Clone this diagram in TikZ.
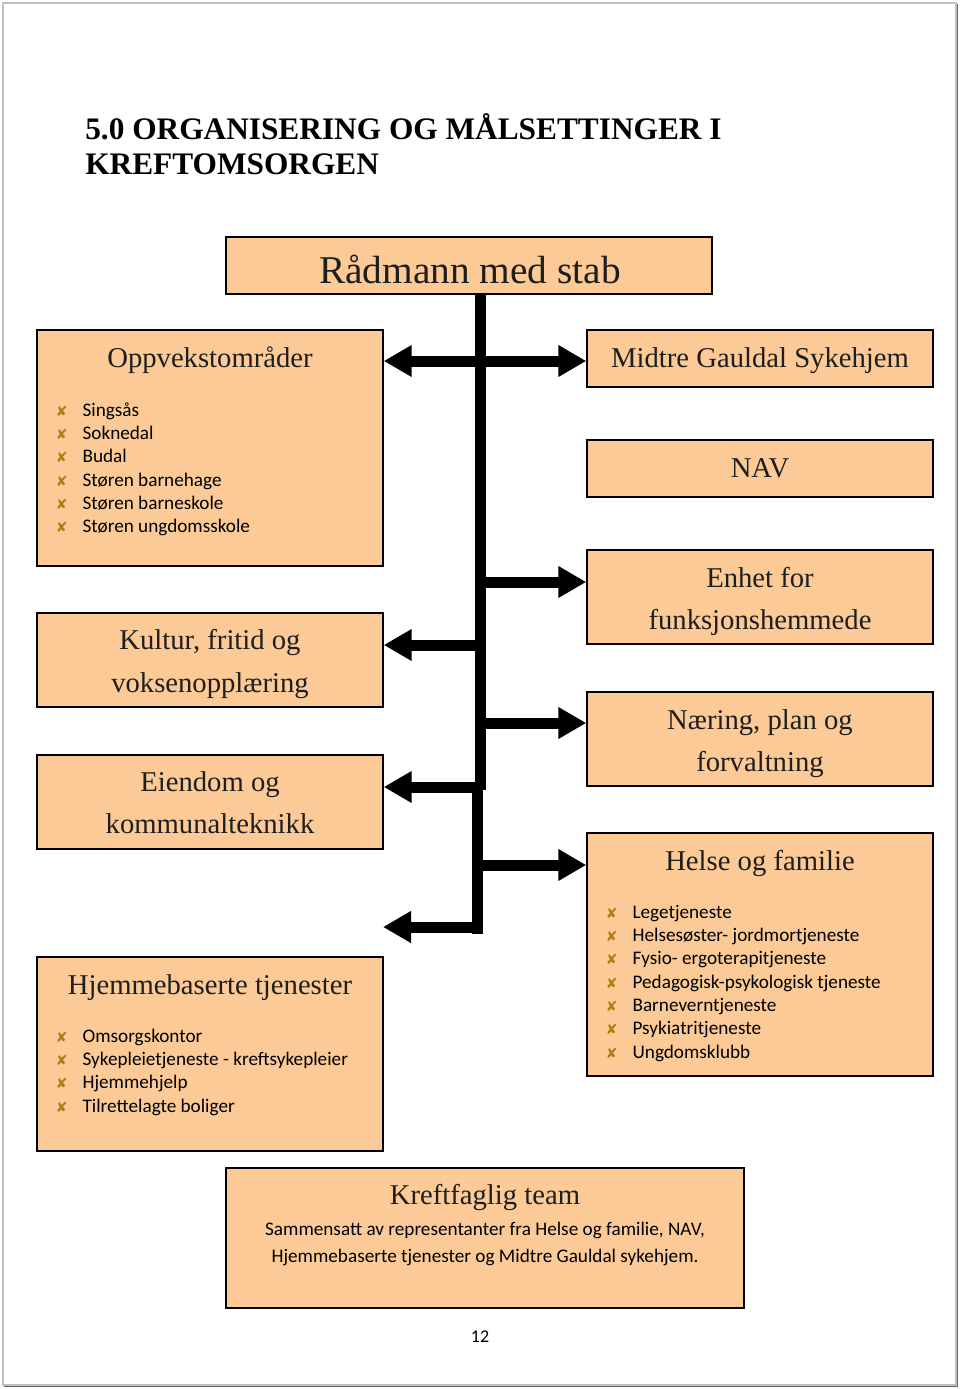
\documentclass[tikz,border=0pt]{standalone}
\usepackage{fontspec}
\setmainfont{Liberation Serif}
\newfontfamily\bodyfont{Carlito}
\newfontfamily\symfont{DejaVu Sans}
\usetikzlibrary{arrows.meta,fit}
\definecolor{boxfill}{RGB}{251,202,150}
\definecolor{bulcol}{RGB}{180,122,20}
\definecolor{headcol}{RGB}{30,30,30}
\newcommand{\bul}{\makebox[20.5pt][l]{\hspace{0.5pt}\textcolor{bulcol}{\symfont\fontsize{10.5pt}{12pt}\selectfont ✘}}}
\begin{document}
\begin{tikzpicture}[x=0.75pt,y=-0.75pt,
  box/.style={draw=black,line width=1.1pt,fill=boxfill,inner sep=0pt},
  head/.style={anchor=base,font=\fontsize{21.5pt}{26pt}\selectfont,text=headcol,inner sep=0pt},
  list/.style={anchor=base west,inner sep=0pt,font=\bodyfont\fontsize{14.4pt}{17.5pt}\selectfont},
  bar/.style={line width=8.25pt},
  tip/.style={-{Triangle[length=21pt,width=22.5pt]}},
  dtip/.style={{Triangle[length=21pt,width=22.5pt]}-{Triangle[length=21pt,width=22.5pt]}},
]
\useasboundingbox (0,0) rectangle (960,1389);
% page frame
\draw[black!25,line width=0.8pt] (3,3) rectangle (956,1385);
\draw[black!60,line width=1.3pt] (957.5,4) -- (957.5,1386.5) -- (4,1386.5);

% title
\node[anchor=base west,inner sep=0pt,font=\bfseries\fontsize{23.5pt}{28pt}\selectfont] (title1) at (85,139) {5.0 ORGANISERING OG MÅLSETTINGER I};
\node[anchor=base west,inner sep=0pt,font=\bfseries\fontsize{23.5pt}{28pt}\selectfont] (title2) at (85,174) {KREFTOMSORGEN};

% boxes
\node[box,fit={(226,237)(712,294)}] (radm) {};
\node[box,fit={(37,330)(383,566)}] (oppv) {};
\node[box,fit={(587,330)(933,387)}] (midtre) {};
\node[box,fit={(587,440)(933,497)}] (nav) {};
\node[box,fit={(587,550)(933,644)}] (enhet) {};
\node[box,fit={(37,613)(383,707)}] (kultur) {};
\node[box,fit={(587,692)(933,786)}] (naering) {};
\node[box,fit={(37,755)(383,849)}] (eiendom) {};
\node[box,fit={(587,833)(933,1076)}] (helse) {};
\node[box,fit={(37,957)(383,1151)}] (hjem) {};
\node[box,fit={(226,1168)(744,1308)}] (kreft) {};

% headings
\node[head,font=\fontsize{29.5pt}{34pt}\selectfont] (radmT) at (470,283) {Rådmann med stab};
\node[head] (oppvT) at (210,367) {Oppvekstområder};
\node[head] (midtreT) at (760,367) {Midtre Gauldal Sykehjem};
\node[head] (navT) at (760,477) {NAV};
\node[head] (enhetT1) at (760,587) {Enhet for};
\node[head] (enhetT2) at (760,629) {funksjonshemmede};
\node[head] (kulturT1) at (210,649) {Kultur, fritid og};
\node[head] (kulturT2) at (210,692) {voksenopplæring};
\node[head] (naeringT1) at (760,729) {Næring, plan og};
\node[head] (naeringT2) at (760,771) {forvaltning};
\node[head] (eiendomT1) at (210,791) {Eiendom og};
\node[head] (eiendomT2) at (210,833) {kommunalteknikk};
\node[head] (helseT) at (760,870) {Helse og familie};
\node[head] (hjemT) at (210,994) {Hjemmebaserte tjenester};
\node[head] (kreftT) at (485,1204) {Kreftfaglig team};

% lists
\node[list] (oppvL) at (55,416) {\begin{tabular}[t]{@{}l@{}}
\bul Singsås\\ \bul Soknedal\\ \bul Budal\\ \bul Støren barnehage\\ \bul Støren barneskole\\ \bul Støren ungdomsskole
\end{tabular}};
\node[list] (helseL) at (605,918) {\begin{tabular}[t]{@{}l@{}}
\bul Legetjeneste\\ \bul Helsesøster- jordmortjeneste\\ \bul Fysio- ergoterapitjeneste\\ \bul Pedagogisk-psykologisk tjeneste\\ \bul Barneverntjeneste\\ \bul Psykiatritjeneste\\ \bul Ungdomsklubb
\end{tabular}};
\node[list] (hjemL) at (55,1042) {\begin{tabular}[t]{@{}l@{}}
\bul Omsorgskontor\\ \bul Sykepleietjeneste - kreftsykepleier\\ \bul Hjemmehjelp\\ \bul Tilrettelagte boliger
\end{tabular}};
\node[anchor=base,inner sep=0pt,font=\bodyfont\fontsize{14.4pt}{17.5pt}\selectfont] (kreftL1) at (485,1235) {Sammensatt av representanter fra Helse og familie, NAV,};
\node[anchor=base,inner sep=0pt,font=\bodyfont\fontsize{14.4pt}{17.5pt}\selectfont] (kreftL2) at (485,1262) {Hjemmebaserte tjenester og Midtre Gauldal sykehjem.};

% page number
\node[anchor=base,inner sep=0pt,font=\bodyfont\fontsize{13.5pt}{15pt}\selectfont] (pageno) at (480,1342) {12};

% trunk
\coordinate (tA) at (480,294);
\coordinate (tB) at (480,790);
\coordinate (tC) at (477.5,783);
\coordinate (tD) at (477.5,934);
\draw[bar] (tA) -- (tB);
\draw[bar] (tC) -- (tD);

% branches
\coordinate (j1) at (480,361);
\coordinate (j2) at (480,582);
\coordinate (j3) at (480,645);
\coordinate (j4) at (480,723);
\coordinate (j5) at (480,787);
\coordinate (j6) at (477.5,865);
\coordinate (j7) at (477.5,927);
\coordinate (free) at (383,927);
\draw[bar,dtip] (oppv.east |- j1) -- (midtre.west |- j1);
\draw[bar,tip] (j2) -- (enhet.west |- j2);
\draw[bar,tip] (j3) -- (kultur.east |- j3);
\draw[bar,tip] (j4) -- (naering.west |- j4);
\draw[bar,tip] (j5) -- (eiendom.east |- j5);
\draw[bar,tip] (j6) -- (helse.west |- j6);
\draw[bar,tip] (j7) -- (free);
\end{tikzpicture}
\end{document}
